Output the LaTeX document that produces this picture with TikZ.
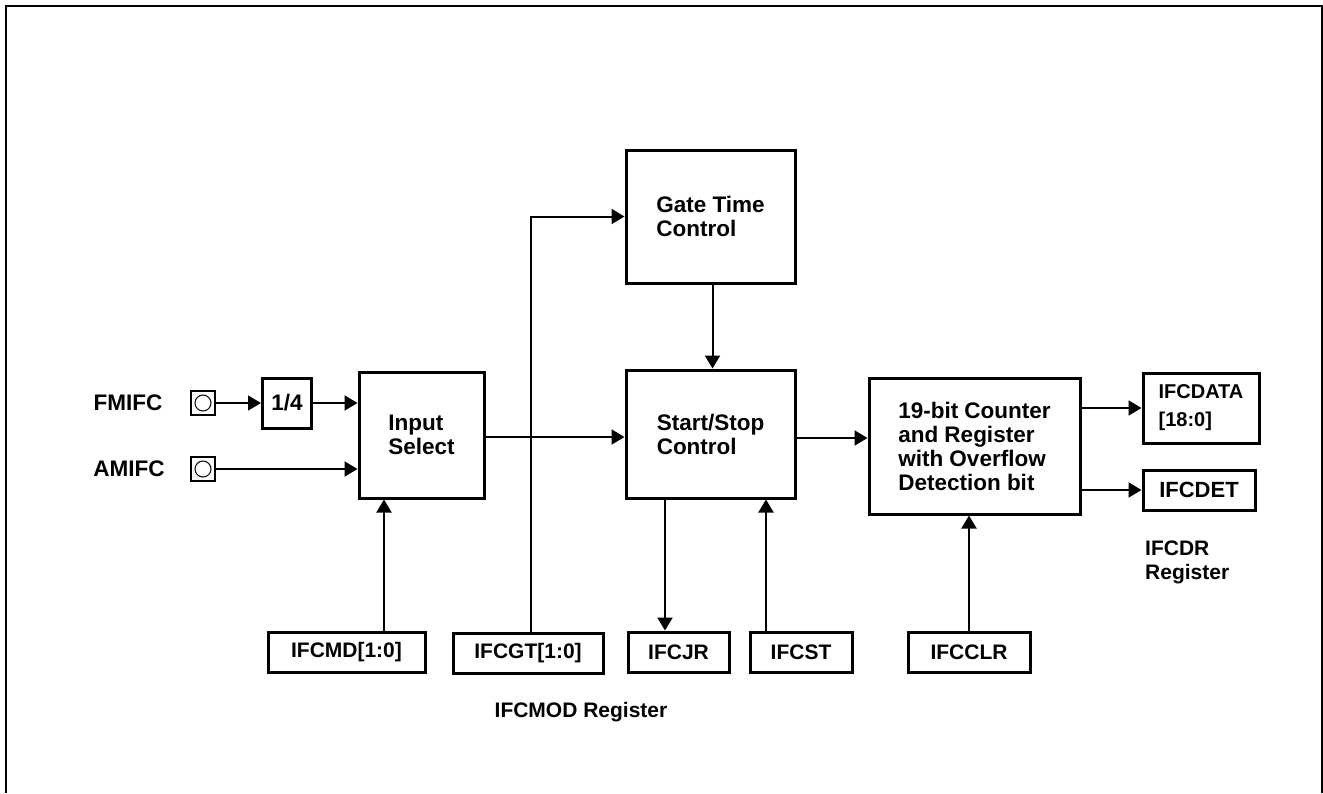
\documentclass[tikz,border=0pt]{standalone}
\usepackage{fontspec}
\setmainfont{Liberation Sans}
\usetikzlibrary{arrows.meta}
\tikzset{
  box/.style={draw, line width=3pt, inner sep=0pt, align=left,
    font=\fontsize{22.5}{24}\selectfont\bfseries},
  regbox/.style={draw, line width=3pt, inner sep=0pt, align=left,
    minimum height=40pt, font=\fontsize{21}{24}\selectfont\bfseries},
  pad/.style={draw, line width=1.5pt, minimum width=24pt, minimum height=24pt, inner sep=0pt,
    path picture={\draw[line width=1pt] (path picture bounding box.center) circle (8pt);}},
  lbl/.style={font=\fontsize{22.5}{24}\selectfont\bfseries, inner sep=0pt},
  small/.style={font=\fontsize{21}{24}\selectfont\bfseries, inner sep=0pt, align=left},
  arr/.style={line width=2pt, -{Triangle[length=13pt,width=15pt]}},
  ln/.style={line width=2pt}
}
\begin{document}
\begin{tikzpicture}[x=1pt,y=-1pt]
\useasboundingbox (0,0) rectangle (1323,793);
\draw[line width=2pt] (6,793) -- (6,6) -- (1322,6) -- (1322,793);

% inputs
\node[lbl] (fm) at (128,403) {FMIFC};
\node[lbl] (am) at (129,469) {AMIFC};
\node[pad] (pad1) at (203,403) {};
\node[pad] (pad2) at (203,469) {};
\node[box, minimum width=49pt, minimum height=50pt] (div) at (287,403) {1/4};

% main blocks
\node[box, minimum width=125pt, minimum height=126pt] (insel) at (421.5,435) {Input\\Select};
\node[box, minimum width=169pt, minimum height=133pt] (gtc) at (710.5,216.5) {Gate Time\\Control};
\node[box, minimum width=169pt, minimum height=128pt] (ssc) at (710.5,434) {Start/Stop\\Control};
\node[box, minimum width=211pt, minimum height=136pt] (cnt) at (974.5,446) {19-bit Counter\\and Register\\with Overflow\\Detection bit};
\node[regbox, minimum width=116pt, minimum height=70pt, font=\fontsize{20}{28}\selectfont\bfseries] (data) at (1201,408) {IFCDATA\\\relax[18:0]};
\node[regbox, minimum width=112pt, font=\fontsize{22}{24}\selectfont\bfseries] (det) at (1199,490) {IFCDET};

% register boxes
\node[regbox, minimum width=157pt] (cmd) at (346.5,652) {IFCMD[1:0]};
\node[regbox, minimum width=150pt] (cgt) at (528,653) {IFCGT[1:0]};
\node[regbox, minimum width=101pt] (cjr) at (678.5,652) {IFCJR};
\node[regbox, minimum width=102pt] (cst) at (801,652) {IFCST};
\node[regbox, minimum width=122pt] (cclr) at (969,652) {IFCCLR};

% register captions
\node[small] (modreg) at (581,712) {IFCMOD Register};
\node[small, anchor=west] (drreg) at (1145,562) {IFCDR\\Register};

% connectors
\draw[line width=1.2pt, -{Triangle[length=13pt,width=15pt]}] (pad1.east) -- (div.west);
\draw[arr] (div.east) -- (div.east -| insel.west);
\draw[arr] (pad2.east) -- (pad2.east -| insel.west);
\draw[arr] ([yshift=-2pt]insel.east) -- ([yshift=-2pt]insel.east -| ssc.west);
\draw[arr] ([yshift=-4pt]ssc.east) -- ([yshift=-4pt]ssc.east -| cnt.west);
\draw[arr] ([xshift=2pt]gtc.south) -- ([xshift=2pt]ssc.north);
\draw[arr] (data.west -| cnt.east) -- (data.west);
\draw[arr] (det.west -| cnt.east) -- (det.west);
\draw[arr] ([xshift=37.5pt]cmd.north) -- ([xshift=37.5pt]cmd.north |- insel.south);
\draw[arr] ([xshift=3pt]cgt.north) |- (gtc.west);
\draw[arr] ([xshift=-13.5pt]cjr.north |- ssc.south) -- ([xshift=-13.5pt]cjr.north);
\draw[arr] ([xshift=-35pt]cst.north) -- ([xshift=-35pt]cst.north |- ssc.south);
\draw[arr] (cclr.north) -- (cclr.north |- cnt.south);
\end{tikzpicture}
\end{document}
